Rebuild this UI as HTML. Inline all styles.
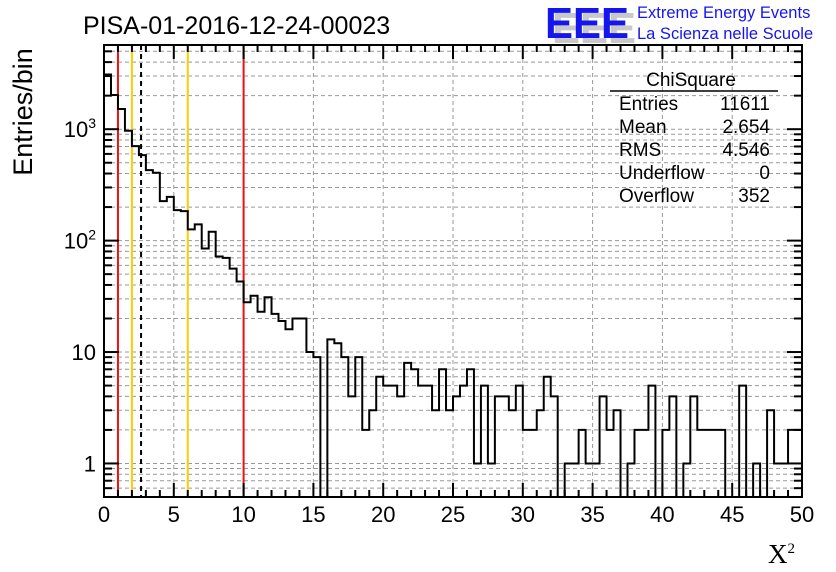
<!DOCTYPE html>
<html><head><meta charset="utf-8"><style>
body{margin:0;background:#fff;}
svg{display:block;font-family:"Liberation Sans",sans-serif;}
</style></head><body>
<svg id="chart" width="836" height="572" viewBox="0 0 836 572" xmlns="http://www.w3.org/2000/svg">
<rect width="836" height="572" fill="#fff"/>
<g id="grid"></g>
<g id="vlines"></g>
<path id="hist" fill="none" stroke="#000" stroke-width="2"/>
<g id="axes"></g>
<text x="83" y="34" font-size="25">PISA-01-2016-12-24-00023</text>
<g font-weight="bold" font-size="44">
<text x="552" y="43" fill="#c8c8c8" textLength="84" lengthAdjust="spacingAndGlyphs">EEE</text>
<text x="545" y="38" fill="#1515ee" textLength="84" lengthAdjust="spacingAndGlyphs">EEE</text>
</g>
<text x="637" y="18" font-size="16.5" fill="#1515ee">Extreme Energy Events</text>
<text x="637" y="39" font-size="16.5" fill="#1515ee">La Scienza nelle Scuole</text>
<g font-size="19">
<text x="691" y="86" text-anchor="middle">ChiSquare</text>
<line x1="610" y1="91" x2="778" y2="91" stroke="#000" stroke-width="1.5"/>
<text x="619" y="110">Entries</text><text x="770" y="110" text-anchor="end">11611</text>
<text x="619" y="133">Mean</text><text x="770" y="133" text-anchor="end">2.654</text>
<text x="619" y="156">RMS</text><text x="770" y="156" text-anchor="end">4.546</text>
<text x="619" y="179">Underflow</text><text x="770" y="179" text-anchor="end">0</text>
<text x="619" y="202">Overflow</text><text x="770" y="202" text-anchor="end">352</text>
</g>
<text transform="translate(32,112) rotate(-90)" text-anchor="middle" font-size="27">Entries/bin</text>
<text x="768" y="563" font-family="Liberation Serif,serif" font-size="27">X<tspan font-size="15" dy="-10">2</tspan></text>
</svg>
<script>
const binEdgesMin = 0, binEdgesMax = 50;
const counts = [3100,2025,1516,968,705,585,429,406,226,247,188,184,126,140,85,120,72,70,56,43,28,32,23,31,22,19,16,20,20,10,9,0,13,12,9,4,9,2,3,6,5,5,4,8,7,5,5,3,7,3,4,5,7,1,5,1,4,4,3,5,2,2,3,6,4,0,1,1,2,1,1,4,2,3,0,1,2,2,5,0,2,4,0,1,4,2,2,2,2,0,0,5,0,1,0,3,1,1,2,2];
const xTicks = [0,5,10,15,20,25,30,35,40,45,50];
const yDecades = [1,10,100,1000];
const yDecadeLabels = ["1","10","10²","10³"];
const markerLines = [{x:1,c:"#ee1111",d:""},{x:2,c:"#ffcc00",d:""},{x:6,c:"#ffcc00",d:""},{x:10,c:"#ee1111",d:""},{x:2.654,c:"#000",d:"5,4"}];
const X0=104,X1=802,Y0=497,Y1=45;
const yMin=0.5, yMax=Math.pow(10,(463-45)/111.3);
function sx(v){return X0+(v-binEdgesMin)/(binEdgesMax-binEdgesMin)*(X1-X0);}
function sy(v){ if(v<=0) return Y0; const lmin=Math.log10(yMin),lmax=Math.log10(yMax); return Y0-(Math.log10(v)-lmin)/(lmax-lmin)*(Y0-Y1);}
const NS="http://www.w3.org/2000/svg";
function mk(p,tag,attrs){const e=document.createElementNS(NS,tag);for(const k in attrs)e.setAttribute(k,attrs[k]);p.appendChild(e);return e;}
const grid=document.getElementById('grid'), axes=document.getElementById('axes'), vl=document.getElementById('vlines');
xTicks.forEach(t=>{ if(t>0&&t<50){const l=mk(grid,'line',{x1:sx(t),x2:sx(t),y1:Y1,y2:Y0,stroke:'#999','stroke-dasharray':'4,3'});

}});
const yMinorVals=[];
[0.1,1,10,100,1000].forEach(d=>{for(let k=1;k<10;k++){const v=d*k;if(v>=yMin&&v<=yMax)yMinorVals.push(v);}});
yMinorVals.forEach(v=>{const l=mk(grid,'line',{x1:X0,x2:X1,y1:sy(v),y2:sy(v),stroke:'#999','stroke-dasharray':'4,3'});

});
markerLines.forEach(m=>{const l=mk(vl,'line',{x1:sx(m.x),x2:sx(m.x),y1:Y1,y2:Y0,stroke:m.c,'stroke-width':2});if(m.d)l.setAttribute('stroke-dasharray',m.d);

});
const n=counts.length,bw=(binEdgesMax-binEdgesMin)/n;
let d=`M${sx(0)},${Y0}`;
for(let i=0;i<n;i++){const y=sy(counts[i]);d+=` L${sx(i*bw)},${y} L${sx((i+1)*bw)},${y}`;}
d+=` L${sx(50)},${Y0}`;
document.getElementById('hist').setAttribute('d',d);
const fr=mk(axes,'rect',{x:X0,y:Y1,width:X1-X0,height:Y0-Y1,fill:'none',stroke:'#000','stroke-width':2});


for(let t=0;t<=50;t++){const major=t%5===0,len=major?14:7,x=sx(t);
mk(axes,'line',{x1:x,x2:x,y1:Y0,y2:Y0-len,stroke:'#000','stroke-width':2});
mk(axes,'line',{x1:x,x2:x,y1:Y1,y2:Y1+len,stroke:'#000','stroke-width':2});}
xTicks.forEach(t=>{const tx=mk(axes,'text',{x:sx(t),y:522,'text-anchor':'middle','font-size':22});tx.textContent=t;

});
yMinorVals.forEach(v=>{const major=yDecades.includes(v),len=major?15:8,y=sy(v);
mk(axes,'line',{x1:X0,x2:X0+len,y1:y,y2:y,stroke:'#000','stroke-width':2});
mk(axes,'line',{x1:X1,x2:X1-len,y1:y,y2:y,stroke:'#000','stroke-width':2});});
yDecades.forEach((v,i)=>{const tx=mk(axes,'text',{x:96,y:sy(v)+8,'text-anchor':'end','font-size':22});
const lab=yDecadeLabels[i];
if(lab.length>2){tx.textContent='10';const ts=mk(tx,'tspan',{'font-size':14,dy:-9});ts.textContent=lab==='10²'?'2':'3';}else tx.textContent=lab;

});
</script>
</body></html>
